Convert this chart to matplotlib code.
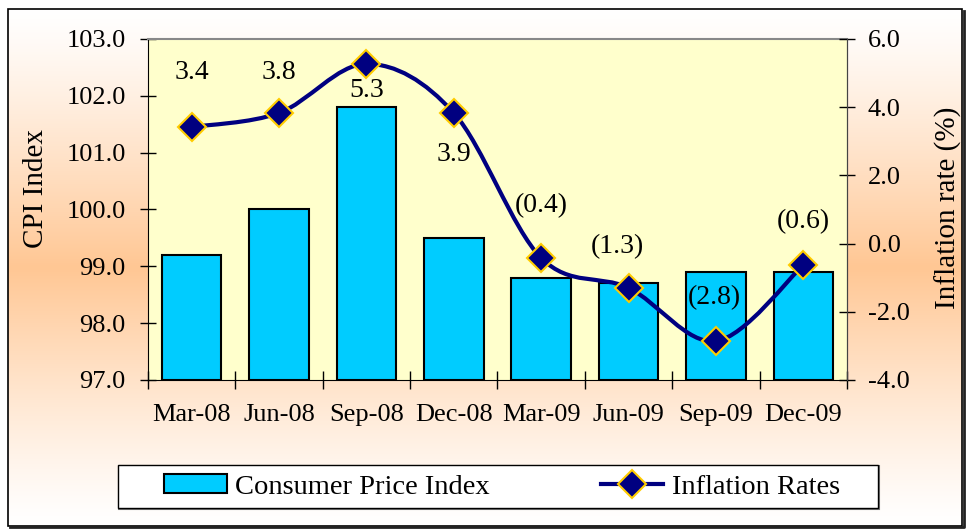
import numpy as np
import matplotlib
matplotlib.use('Agg')
import matplotlib.pyplot as plt
from matplotlib.path import Path
from matplotlib.patches import PathPatch, Rectangle

plt.rcParams['font.family'] = ['Liberation Serif', 'DejaVu Serif']
plt.rcParams['font.size'] = 19

# data
quarters = ['Mar-08', 'Jun-08', 'Sep-08', 'Dec-08', 'Mar-09', 'Jun-09', 'Sep-09', 'Dec-09']
cpi = [99.2, 100.0, 101.8, 99.5, 98.8, 98.7, 98.9, 98.9]
inflation = [3.4, 3.8, 5.3, 3.9, -0.4, -1.3, -2.8, -0.6]
# where the plotted diamonds sit (slightly different from the printed labels)
inflation_pts = [3.42, 3.83, 5.27, 3.83, -0.42, -1.30, -2.86, -0.63]

# label offsets in points (style only)
label_offsets = [(0, 39), (0, 29), (0, -19), (0, -30), (0, 38), (-8, 30), (-1, 31), (0, 31)]

fig = plt.figure(figsize=(9.66, 5.29), dpi=100)

# background gradient, border and legend box
bg = fig.add_axes([0, 0, 1, 1], zorder=0)
bg.set_xlim(0, 966)
bg.set_ylim(529, 0)
bg.axis('off')
t = np.linspace(0, 1, 256)
f = np.clip(1 - np.abs(t - 0.5) / 0.5, 0, 1) ** 1.2
white = np.array([1.0, 1.0, 1.0])
orange = np.array([1.0, 0.78, 0.58])
grad = white[None, :] * (1 - f[:, None]) + orange[None, :] * f[:, None]
grad = np.repeat(grad[:, None, :], 2, axis=1)
bg.imshow(grad, extent=(8, 962, 526, 9), aspect='auto', interpolation='bilinear')
bg.plot([10, 964, 964], [527, 527, 11], color='#222222', lw=2)
bg.add_patch(Rectangle((8, 9), 954, 517, fill=False, edgecolor='black', lw=1.2))
bg.add_patch(Rectangle((119, 466), 760, 43, facecolor='none', edgecolor='#777777', lw=1.5))
bg.add_patch(Rectangle((118, 465), 760, 43, facecolor='white', edgecolor='black', lw=1))

ax = fig.add_axes([0.1532, 0.2817, 0.7236, 0.6446], zorder=1)
ax.set_facecolor('#FFFFCC')
x = np.arange(len(quarters))
bars = ax.bar(x, np.array(cpi) - 97, width=0.68, bottom=97, color='#00CCFF',
              edgecolor='black', lw=1.5, label='Consumer Price Index')
ax.set_xlim(-0.5, len(quarters) - 0.5)
ax.set_ylim(97, 103)
ax.set_yticks(np.arange(97, 103.5, 1))
ax.set_yticklabels([f'{v:.1f}' for v in np.arange(97, 103.5, 1)])
ax.set_xticks(np.arange(-0.5, len(quarters), 1))
ax.set_xticklabels([])
ax.set_xticks(x, minor=True)
ax.set_xticklabels(quarters, minor=True)
ax.tick_params(axis='x', which='major', direction='inout', length=13, width=1)
ax.tick_params(axis='x', which='minor', length=0, pad=17)
ax.tick_params(axis='y', direction='inout', length=12, width=1, pad=10)
ax.spines['top'].set_color('#888888')
ax.spines['top'].set_linewidth(1.5)
ax.spines['right'].set_color('#444444')

ax2 = ax.twinx()
ax2.set_ylim(-4, 6)
ax2.set_yticks(np.arange(-4, 6.5, 2))
ax2.set_yticklabels([f'{v:.1f}' for v in np.arange(-4, 6.5, 2)])
ax2.tick_params(axis='y', direction='inout', length=12, width=1, pad=9)
for s in ['top', 'left', 'bottom']:
    ax2.spines[s].set_visible(False)
ax2.spines['right'].set_color('#444444')

# smoothed line (Catmull-Rom -> cubic Bezier, like the spreadsheet smoothing)
pts = np.column_stack([x, inflation_pts])
verts = [tuple(pts[0])]
codes = [Path.MOVETO]
for i in range(len(pts) - 1):
    p0 = pts[i - 1] if i > 0 else pts[i]
    p1, p2 = pts[i], pts[i + 1]
    p3 = pts[i + 2] if i + 2 < len(pts) else pts[i + 1]
    c1 = p1 + (p2 - p0) / 6
    c2 = p2 - (p3 - p1) / 6
    verts += [tuple(c1), tuple(c2), tuple(p2)]
    codes += [Path.CURVE4] * 3
ax2.add_patch(PathPatch(Path(verts, codes), fill=False, edgecolor='#000080', lw=3, zorder=3))
line, = ax2.plot(x, inflation_pts, ls='none', marker='D', ms=14, mfc='#000080',
                 mec='#FFCC00', mew=1.5, zorder=4)

for xi, yi, v, off in zip(x, inflation_pts, inflation, label_offsets):
    txt = f'{v:.1f}' if v >= 0 else f'({abs(v):.1f})'
    ax2.annotate(txt, (xi, yi), xytext=off, textcoords='offset points',
                 ha='center', va='center', fontsize=20, zorder=5)

fig.text(36 / 966, 1 - 188 / 529, 'CPI Index', rotation=90, ha='center', va='center',
         fontsize=21)
fig.text(948 / 966, 1 - 208 / 529, 'Inflation rate (%)', rotation=90, ha='center',
         va='center', fontsize=21)

leg_line = plt.Line2D([], [], color='#000080', lw=3, marker='D', ms=14,
                      mfc='#000080', mec='#FFCC00', mew=1.5)
leg = fig.legend([bars, leg_line], ['Consumer Price Index', 'Inflation Rates'],
                 loc='center', ncol=2, fontsize=20.5,
                 bbox_to_anchor=(502 / 966, 1 - 487 / 529),
                 frameon=False, handlelength=2.2, handleheight=0.6,
                 borderaxespad=0, numpoints=1, borderpad=0,
                 handletextpad=0.3, columnspacing=3.9)
leg.set_zorder(5)

fig.savefig('out.png', dpi=100)
